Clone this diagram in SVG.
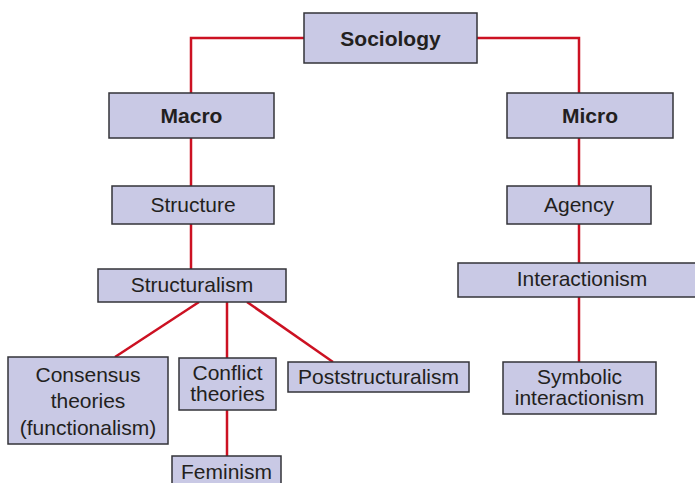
<svg xmlns="http://www.w3.org/2000/svg" width="695" height="483" viewBox="0 0 695 483">
<style>
.box{fill:#c9c9e5;stroke:#333338;stroke-width:1.5}
.t{font-family:"Liberation Sans",Arial,sans-serif;font-size:21px;fill:#231f20;text-anchor:middle}
.b{font-weight:bold}
.c{fill:none;stroke:#cc1122;stroke-width:2.5}
</style>
<rect width="695" height="483" fill="#ffffff"/>
<g id="connectors">
<polyline class="c" points="304,38 191,38 191,93"/>
<polyline class="c" points="477,38 579,38 579,93"/>
<line class="c" x1="191" y1="138" x2="191" y2="186"/>
<line class="c" x1="191" y1="224" x2="191" y2="269"/>
<line class="c" x1="199" y1="302" x2="115" y2="357"/>
<line class="c" x1="227" y1="302" x2="227" y2="358"/>
<line class="c" x1="247" y1="302" x2="333" y2="362"/>
<line class="c" x1="227" y1="410" x2="227" y2="456"/>
<line class="c" x1="579" y1="138" x2="579" y2="186"/>
<line class="c" x1="579" y1="224" x2="579" y2="263"/>
<line class="c" x1="579" y1="297" x2="579" y2="362"/>
</g>
<g id="sociology"><rect class="box" x="304" y="13" width="173" height="50"/><text class="t b" x="390.5" y="46">Sociology</text></g>
<g id="macro"><rect class="box" x="109" y="93" width="165" height="45"/><text class="t b" x="191.5" y="123">Macro</text></g>
<g id="micro"><rect class="box" x="507" y="93" width="166" height="45"/><text class="t b" x="590" y="123">Micro</text></g>
<g id="structure"><rect class="box" x="112" y="186" width="162" height="38"/><text class="t" x="193" y="212">Structure</text></g>
<g id="agency"><rect class="box" x="507" y="186" width="144" height="38"/><text class="t" x="579" y="212">Agency</text></g>
<g id="structuralism"><rect class="box" x="98" y="269" width="188" height="33"/><text class="t" x="192" y="292">Structuralism</text></g>
<g id="interactionism"><rect class="box" x="458" y="263" width="240" height="34"/><text class="t" x="582" y="286">Interactionism</text></g>
<g id="consensus"><rect class="box" x="8" y="357" width="160" height="87"/><text class="t" x="88" y="382">Consensus</text><text class="t" x="88" y="408">theories</text><text class="t" x="88" y="435">(functionalism)</text></g>
<g id="conflict"><rect class="box" x="179" y="358" width="97" height="52"/><text class="t" x="227.5" y="380">Conflict</text><text class="t" x="227.5" y="401">theories</text></g>
<g id="poststructuralism"><rect class="box" x="288" y="362" width="181" height="30"/><text class="t" x="378.5" y="384">Poststructuralism</text></g>
<g id="symbolic"><rect class="box" x="503" y="362" width="153" height="52"/><text class="t" x="579.5" y="384">Symbolic</text><text class="t" x="579.5" y="405">interactionism</text></g>
<g id="feminism"><rect class="box" x="172" y="456" width="109" height="35"/><text class="t" x="226.5" y="479">Feminism</text></g>
</svg>
